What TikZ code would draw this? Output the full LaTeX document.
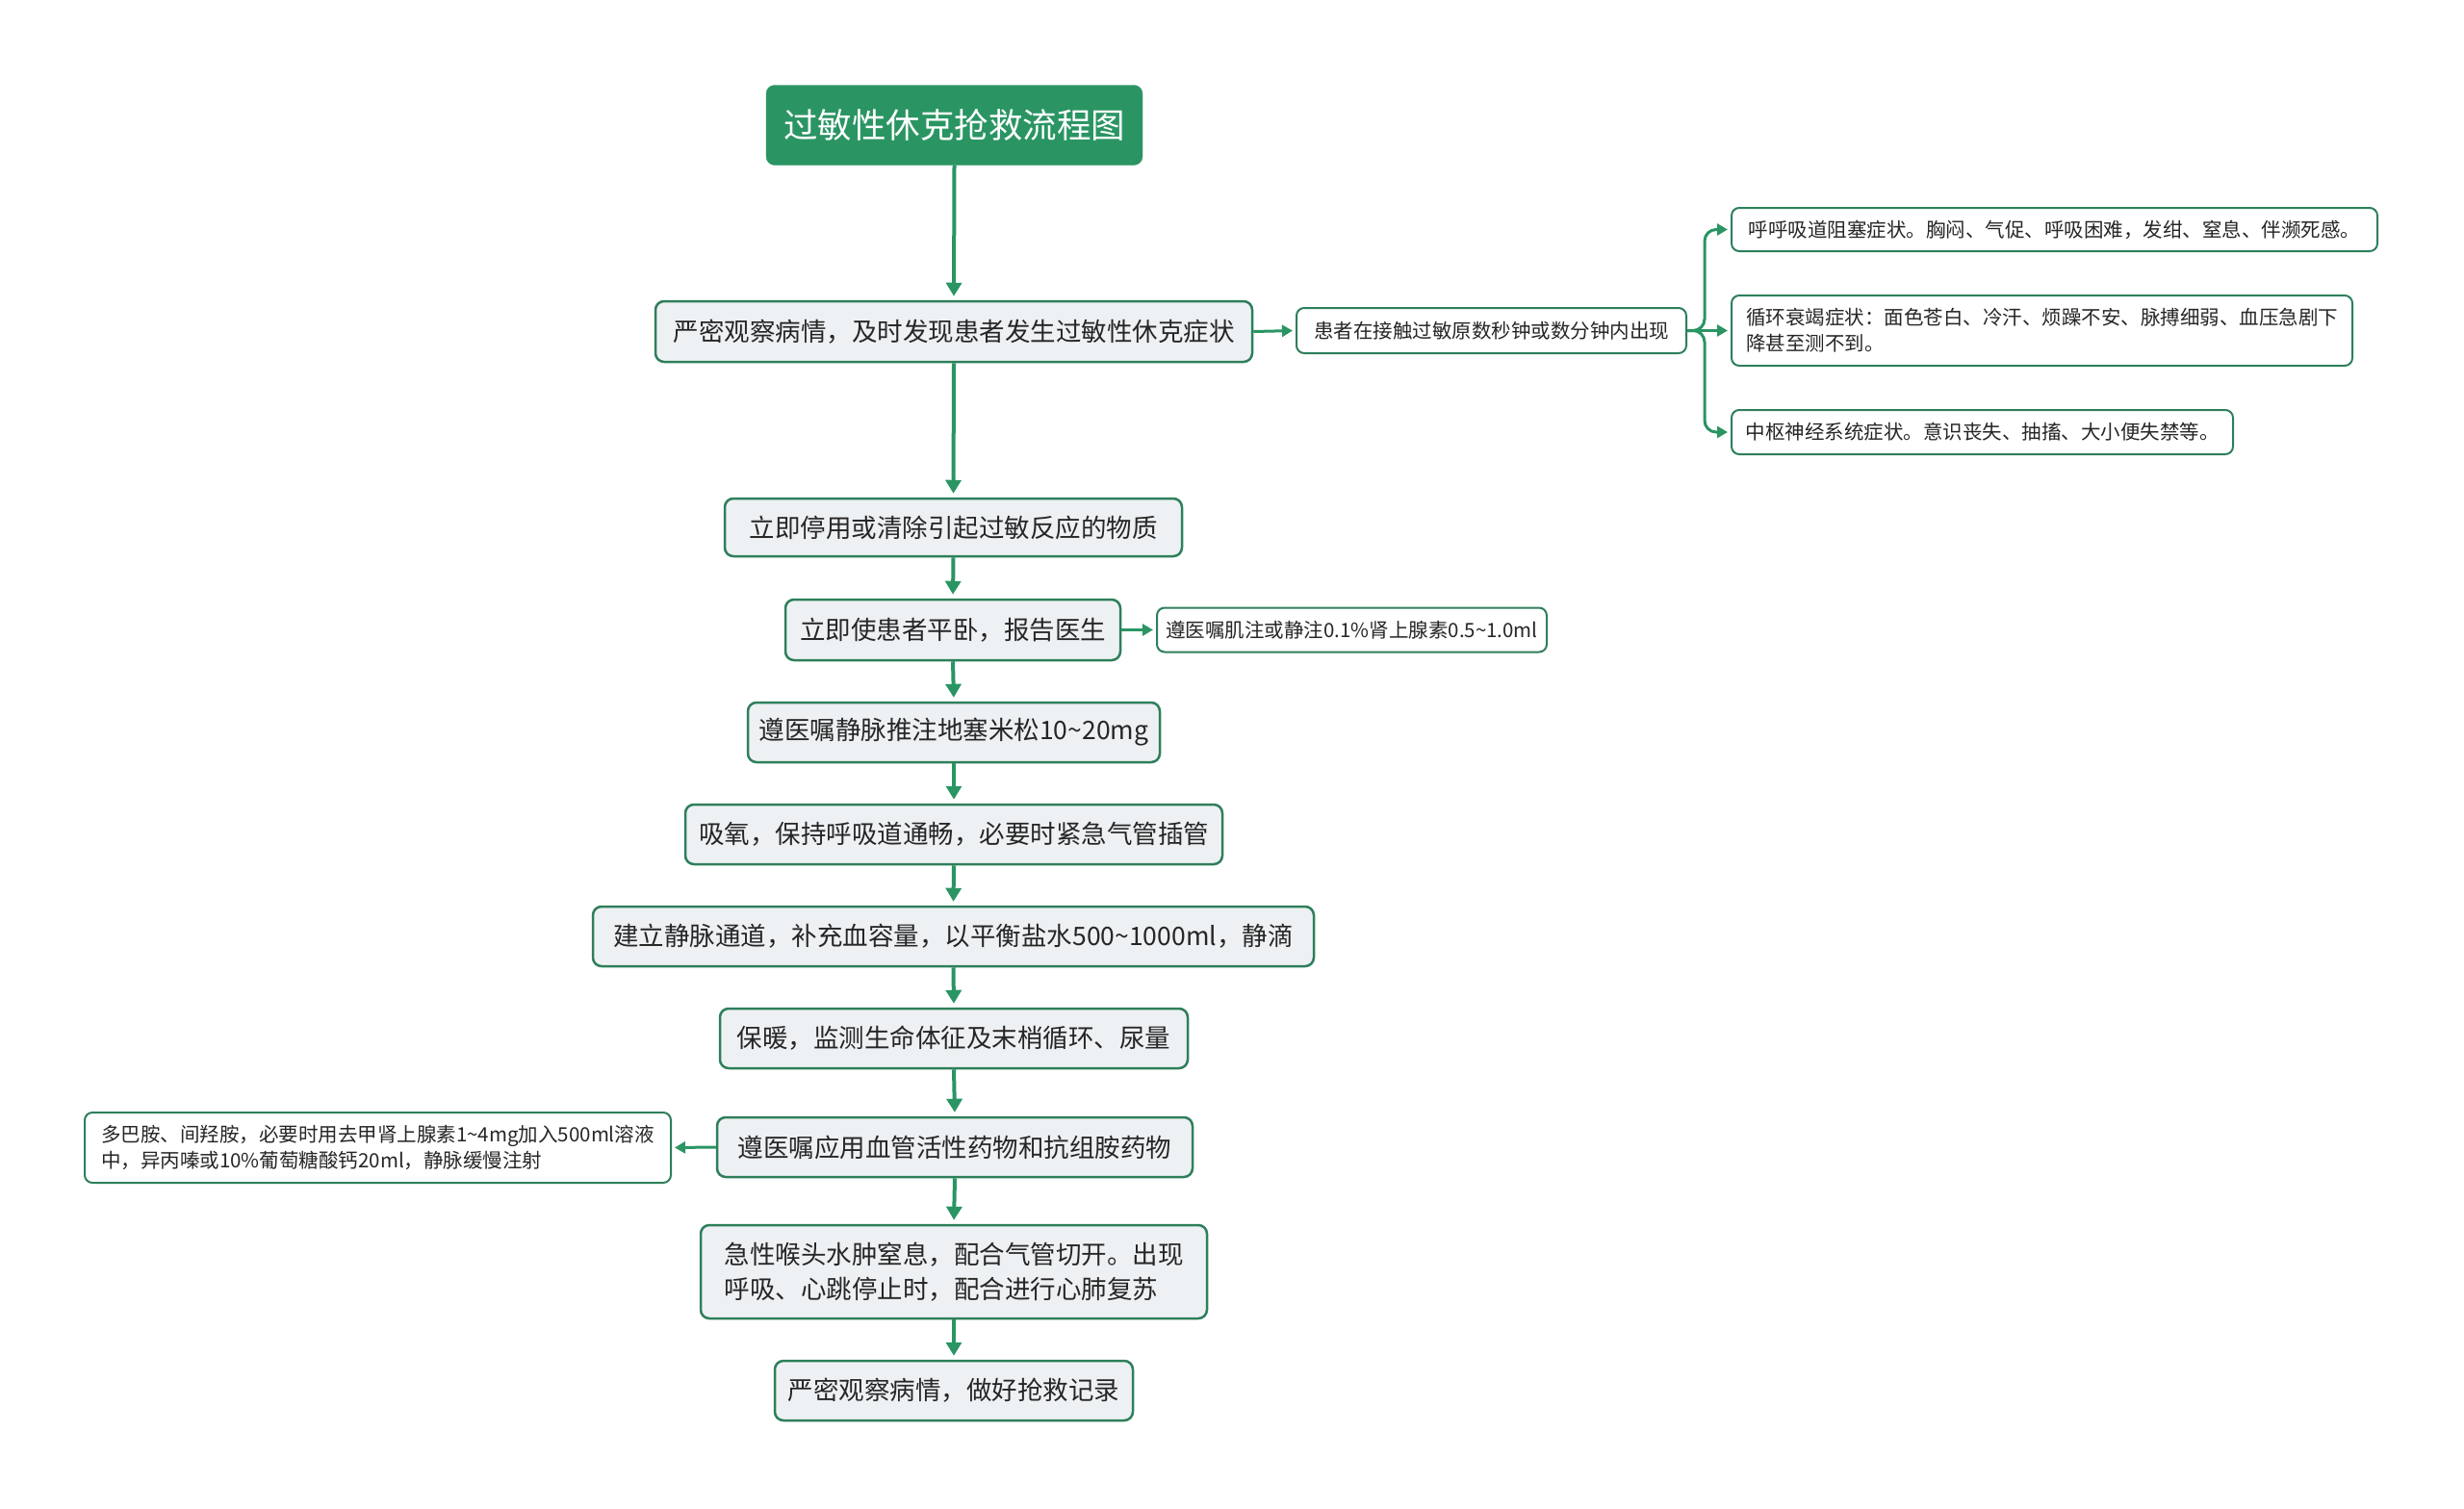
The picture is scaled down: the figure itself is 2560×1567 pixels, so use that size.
\documentclass[tikz,border=0pt]{standalone}
\usepackage{fontspec}
\setmainfont{Noto Sans CJK SC}
\usetikzlibrary{arrows.meta}
\definecolor{grn}{HTML}{2A9563}
\definecolor{bord}{HTML}{2E7F5B}
\definecolor{boxfill}{HTML}{EEF1F3}
\definecolor{txt}{HTML}{262626}
\tikzset{
  mainbox/.style={draw=bord, line width=2.5pt, fill=boxfill, rounded corners=9pt, text=txt,
    font=\fontsize{26.5}{36}\selectfont, inner sep=0pt, align=left},
  sidebox/.style={draw=bord, line width=2pt, fill=white, rounded corners=8pt, text=txt,
    font=\fontsize{20.5}{27}\selectfont, inner sep=0pt, align=left},
  titlebox/.style={fill=grn, draw=grn, rounded corners=9pt, text=white,
    font=\fontsize{35.5}{40}\selectfont, inner sep=0pt},
  mainarrow/.style={draw=grn, line width=4pt, -{Triangle[length=14pt,width=16pt]}, shorten >=4pt},
  sidearrow/.style={draw=grn, line width=3pt, -{Triangle[length=11pt,width=12pt]}, shorten >=3pt},
}
\begin{document}
\begin{tikzpicture}[x=1pt,y=-1pt]
\useasboundingbox (0,0) rectangle (2560,1567);
\node[titlebox, minimum width=391pt, minimum height=83pt] (t) at (991.5,130) {过敏性休克抢救流程图};
\node[mainbox, minimum width=620pt, minimum height=63pt] (b1) at (991,344.5) {严密观察病情，及时发现患者发生过敏性休克症状};
\node[sidebox, minimum width=405pt, minimum height=47pt] (b1r) at (1549.5,343.5) {患者在接触过敏原数秒钟或数分钟内出现};
\node[sidebox, minimum width=671pt, minimum height=45pt] (r1) at (2134.5,238.5) {呼呼吸道阻塞症状。胸闷、气促、呼吸困难，发绀、窒息、伴濒死感。};
\node[sidebox, minimum width=645pt, minimum height=73pt] (r2) at (2121.5,343.5) {循环衰竭症状：面色苍白、冷汗、烦躁不安、脉搏细弱、血压急剧下\\降甚至测不到。};
\node[sidebox, minimum width=521pt, minimum height=46pt] (r3) at (2059.5,449) {中枢神经系统症状。意识丧失、抽搐、大小便失禁等。};
\node[mainbox, minimum width=475pt, minimum height=60pt] (b2) at (990.5,548) {立即停用或清除引起过敏反应的物质};
\node[mainbox, minimum width=348pt, minimum height=63pt] (b3) at (990,654.5) {立即使患者平卧，报告医生};
\node[sidebox, minimum width=405pt, minimum height=46pt] (b3r) at (1404.5,654.5) {遵医嘱肌注或静注0.1\%肾上腺素0.5\textasciitilde1.0ml};
\node[mainbox, minimum width=428pt, minimum height=62pt] (b4) at (991,761) {遵医嘱静脉推注地塞米松10\textasciitilde20mg};
\node[mainbox, minimum width=558pt, minimum height=62pt] (b5) at (991,867) {吸氧，保持呼吸道通畅，必要时紧急气管插管};
\node[mainbox, minimum width=749pt, minimum height=62pt] (b6) at (990.5,973) {建立静脉通道，补充血容量，以平衡盐水500\textasciitilde1000ml，静滴};
\node[mainbox, minimum width=486pt, minimum height=62pt] (b7) at (991,1079) {保暖，监测生命体征及末梢循环、尿量};
\node[mainbox, minimum width=494pt, minimum height=62pt] (b8) at (992,1192) {遵医嘱应用血管活性药物和抗组胺药物};
\node[sidebox, minimum width=609pt, minimum height=73pt] (b8l) at (392.5,1192.5) {多巴胺、间羟胺，必要时用去甲肾上腺素1\textasciitilde4mg加入500ml溶液\\中，异丙嗪或10\%葡萄糖酸钙20ml，静脉缓慢注射};
\node[mainbox, minimum width=526pt, minimum height=97pt] (b9) at (991,1321.5) {急性喉头水肿窒息，配合气管切开。出现\\呼吸、心跳停止时，配合进行心肺复苏};
\node[mainbox, minimum width=372pt, minimum height=62pt] (b10) at (991,1445) {严密观察病情，做好抢救记录};

\draw[mainarrow] (t.south) -- (b1.north);
\draw[mainarrow] (b1.south) -- (b2.north);
\draw[mainarrow] (b2.south) -- (b3.north);
\draw[mainarrow] (b3.south) -- (b4.north);
\draw[mainarrow] (b4.south) -- (b5.north);
\draw[mainarrow] (b5.south) -- (b6.north);
\draw[mainarrow] (b6.south) -- (b7.north);
\draw[mainarrow] (b7.south) -- (b8.north);
\draw[mainarrow] (b8.south) -- (b9.north);
\draw[mainarrow] (b9.south) -- (b10.north);

\draw[sidearrow] (b1.east) -- (b1r.west);
\draw[sidearrow] (b3.east) -- (b3r.west);
\draw[sidearrow] (b8.west) -- (b8l.east);

\coordinate (br) at (1771,343.5);
\draw[sidearrow] (b1r.east) -- (r2.west);
\draw[sidearrow, rounded corners=12pt] (b1r.east) -- (br) |- (r1.west);
\draw[sidearrow, rounded corners=12pt] (b1r.east) -- (br) |- (r3.west);
\end{tikzpicture}
\end{document}
